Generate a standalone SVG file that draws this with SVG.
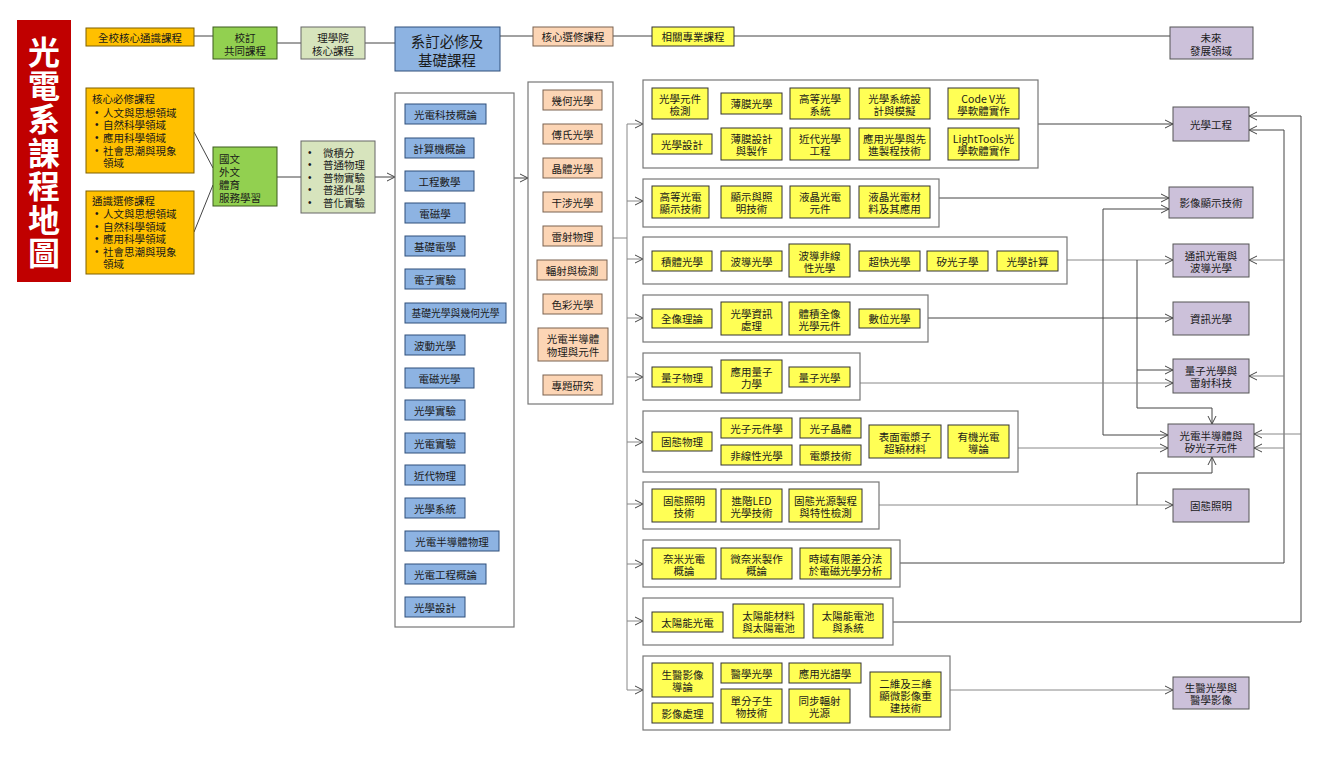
<svg xmlns="http://www.w3.org/2000/svg" width="1331" height="758" viewBox="0 0 1331 758">
<defs>
<style>
.t{font-family:"Noto Sans CJK TC","Noto Sans CJK SC",sans-serif;font-size:10.5px;fill:#1a1a1a;text-anchor:middle;dominant-baseline:central}
.l{font-family:"Noto Sans CJK TC","Noto Sans CJK SC",sans-serif;font-size:10.5px;fill:#1a1a1a;dominant-baseline:central}
.b{font-family:"Liberation Sans",sans-serif;font-size:10px;fill:#1a1a1a;dominant-baseline:central}
.or{fill:#FFC000;stroke:#7F6000;stroke-width:1}
.gr{fill:#92D050;stroke:#3d5a1e;stroke-width:1}
.lg{fill:#D7E4BD;stroke:#666;stroke-width:1}
.bl{fill:#8DB3E2;stroke:#2f4f7a;stroke-width:1}
.pe{fill:#FCD5B5;stroke:#7a6250;stroke-width:1}
.ye{fill:#FFFF55;stroke:#333;stroke-width:1}
.pu{fill:#CCC1DA;stroke:#555;stroke-width:1}
.ct{fill:#fff;stroke:#777;stroke-width:1.2}
.c{fill:none;stroke:#444;stroke-width:1}
.g{fill:none;stroke:#888;stroke-width:1}
</style>
<marker id="a" markerWidth="10" markerHeight="10" refX="9" refY="5" orient="auto" markerUnits="userSpaceOnUse"><path d="M1,1 L9,5 L1,9" fill="none" stroke="#444" stroke-width="1"/></marker>
</defs>
<rect width="1331" height="758" fill="#fff"/>

<g id="title">
<rect x="17" y="20" width="54" height="262" fill="#C00000"/>
<text x="44" font-family="Noto Sans CJK TC,sans-serif" font-size="32" font-weight="bold" fill="#fff" text-anchor="middle" dominant-baseline="central"><tspan x="44" y="50">光</tspan><tspan x="44" y="84">電</tspan><tspan x="44" y="117">系</tspan><tspan x="44" y="151">課</tspan><tspan x="44" y="184">程</tspan><tspan x="44" y="218">地</tspan><tspan x="44" y="251">圖</tspan></text>
</g>

<g id="connectors">
<path class="c" d="M194,36 H213 M277,43 H301 M365,43 H395 M500,36 H533 M613,36 H652 M734,36 H1170"/>
<path class="c" d="M194,132 L213,168 M194,232 L213,185 M277,177 H301"/>
<path class="c" d="M375,177 H395" marker-end="url(#a)"/>
<path class="c" d="M514,178 H528" marker-end="url(#a)"/>
<path class="g" d="M613,238 H627 M627,124 V690"/>
<path class="g" d="M627,124 H643" marker-end="url(#a)"/>
<path class="g" d="M627,201 H643" marker-end="url(#a)"/>
<path class="g" d="M627,259 H643" marker-end="url(#a)"/>
<path class="g" d="M627,318 H643" marker-end="url(#a)"/>
<path class="g" d="M627,377 H643" marker-end="url(#a)"/>
<path class="g" d="M627,442 H643" marker-end="url(#a)"/>
<path class="g" d="M627,504 H643" marker-end="url(#a)"/>
<path class="g" d="M627,564 H643" marker-end="url(#a)"/>
<path class="g" d="M627,621 H643" marker-end="url(#a)"/>
<path class="g" d="M627,690 H643" marker-end="url(#a)"/>
<path class="c" d="M1038,124 H1173" marker-end="url(#a)"/>
<path class="c" d="M939,198 H1169" marker-end="url(#a)"/>
<path class="g" d="M1067,260 H1173" marker-end="url(#a)"/>
<path class="c" d="M928,318 H1173" marker-end="url(#a)"/>
<path class="c" d="M1103,209 H1169" marker-end="url(#a)"/>
<path class="c" d="M1103,209 V435"/>
<path class="c" d="M1103,435 H1168" marker-end="url(#a)"/>
<path class="c" d="M1137,260 V408 H1212 V424" marker-end="url(#a)"/>
<path class="c" d="M1137,370 H1173" marker-end="url(#a)"/>
<path class="g" d="M860,383 H1173" marker-end="url(#a)"/>
<path class="g" d="M1018,448 H1168" marker-end="url(#a)"/>
<path class="g" d="M879,505 H1173" marker-end="url(#a)"/>
<path class="c" d="M1137,505 V473 H1212 V457" marker-end="url(#a)"/>
<path class="c" d="M900,563 H1284 V130 H1249" marker-end="url(#a)"/>
<path class="g" d="M1284,260 H1249" marker-end="url(#a)"/>
<path class="g" d="M1284,376 H1249" marker-end="url(#a)"/>
<path class="g" d="M1284,448 H1254" marker-end="url(#a)"/>
<path class="c" d="M893,622 H1301 V116 H1249" marker-end="url(#a)"/>
<path class="g" d="M1301,434 H1254" marker-end="url(#a)"/>
<path class="g" d="M950,690 H1173" marker-end="url(#a)"/>
</g>

<g id="n-all"><rect class="or" x="86" y="28" width="108" height="18"/><text class="t" x="140" y="37">全校核心通識課程</text></g>
<g id="n-school"><rect class="gr" x="213" y="27" width="64" height="32"/><text class="t"><tspan x="245" y="37">校訂</tspan><tspan x="245" y="50">共同課程</tspan></text></g>
<g id="n-sci"><rect class="lg" x="301" y="27" width="64" height="32"/><text class="t"><tspan x="333" y="37">理學院</tspan><tspan x="333" y="50">核心課程</tspan></text></g>
<g id="n-dept"><rect class="bl" x="395" y="27" width="105" height="44"/><text class="t" style="font-size:14.5px"><tspan x="447" y="40">系訂必修及</tspan><tspan x="447" y="59">基礎課程</tspan></text></g>
<g id="n-coresel"><rect class="pe" x="533" y="27" width="80" height="19"/><text class="t" x="573" y="36.5">核心選修課程</text></g>
<g id="n-prof"><rect class="ye" x="652" y="27" width="82" height="19"/><text class="t" x="693" y="36.5">相關專業課程</text></g>
<g id="n-future"><rect class="pu" x="1170" y="27" width="83" height="32"/><text class="t"><tspan x="1211" y="37">未來</tspan><tspan x="1211" y="50">發展領域</tspan></text></g>

<g id="n-corereq"><rect class="or" x="86" y="88" width="108" height="85"/>
<text class="l" x="92" y="98">核心必修課程</text>
<text class="b"><tspan x="95" y="112">•</tspan><tspan x="95" y="124">•</tspan><tspan x="95" y="137">•</tspan><tspan x="95" y="150">•</tspan></text>
<text class="l"><tspan x="103" y="112">人文與思想領域</tspan><tspan x="103" y="124">自然科學領域</tspan><tspan x="103" y="137">應用科學領域</tspan><tspan x="103" y="150">社會思潮與現象</tspan><tspan x="103" y="162">領域</tspan></text></g>
<g id="n-genel"><rect class="or" x="86" y="191" width="108" height="83"/>
<text class="l" x="92" y="200">通識選修課程</text>
<text class="b"><tspan x="95" y="213">•</tspan><tspan x="95" y="226">•</tspan><tspan x="95" y="238">•</tspan><tspan x="95" y="251">•</tspan></text>
<text class="l"><tspan x="103" y="213">人文與思想領域</tspan><tspan x="103" y="226">自然科學領域</tspan><tspan x="103" y="238">應用科學領域</tspan><tspan x="103" y="251">社會思潮與現象</tspan><tspan x="103" y="263">領域</tspan></text></g>
<g id="n-common"><rect class="gr" x="213" y="147" width="64" height="59"/>
<text class="l"><tspan x="219" y="158">國文</tspan><tspan x="219" y="171">外文</tspan><tspan x="219" y="184">體育</tspan><tspan x="219" y="197">服務學習</tspan></text></g>
<g id="n-basic"><rect class="lg" x="301" y="141" width="74" height="72"/>
<text class="b"><tspan x="308" y="152">•</tspan><tspan x="308" y="164">•</tspan><tspan x="308" y="177">•</tspan><tspan x="308" y="189">•</tspan><tspan x="308" y="202">•</tspan></text>
<text class="l"><tspan x="323" y="152">微積分</tspan><tspan x="323" y="164">普通物理</tspan><tspan x="323" y="177">普物實驗</tspan><tspan x="323" y="189">普通化學</tspan><tspan x="323" y="202">普化實驗</tspan></text></g>

<g id="c-blue"><rect class="ct" x="395" y="93" width="119" height="534"/>
<rect class="bl" x="405" y="104" width="81" height="20"/><text class="t" x="445.5" y="114">光電科技概論</text>
<rect class="bl" x="405" y="138" width="69" height="20"/><text class="t" x="439.5" y="148">計算機概論</text>
<rect class="bl" x="405" y="171" width="69" height="20"/><text class="t" x="439.5" y="181">工程數學</text>
<rect class="bl" x="405" y="203" width="60" height="20"/><text class="t" x="435" y="213">電磁學</text>
<rect class="bl" x="405" y="236" width="60" height="20"/><text class="t" x="435" y="246">基礎電學</text>
<rect class="bl" x="405" y="269" width="60" height="20"/><text class="t" x="435" y="279">電子實驗</text>
<rect class="bl" x="405" y="303" width="101" height="20"/><text class="t" x="455.5" y="313" style="font-size:9.8px">基礎光學與幾何光學</text>
<rect class="bl" x="405" y="335" width="60" height="20"/><text class="t" x="435" y="345">波動光學</text>
<rect class="bl" x="405" y="368" width="69" height="20"/><text class="t" x="439.5" y="378">電磁光學</text>
<rect class="bl" x="405" y="400" width="60" height="20"/><text class="t" x="435" y="410">光學實驗</text>
<rect class="bl" x="405" y="433" width="60" height="20"/><text class="t" x="435" y="443">光電實驗</text>
<rect class="bl" x="405" y="465" width="60" height="20"/><text class="t" x="435" y="475">近代物理</text>
<rect class="bl" x="405" y="498" width="60" height="20"/><text class="t" x="435" y="508">光學系統</text>
<rect class="bl" x="405" y="531" width="94" height="20"/><text class="t" x="452" y="541">光電半導體物理</text>
<rect class="bl" x="405" y="564" width="81" height="20"/><text class="t" x="445.5" y="574">光電工程概論</text>
<rect class="bl" x="405" y="597" width="60" height="20"/><text class="t" x="435" y="607">光學設計</text>
</g>

<g id="c-peach"><rect class="ct" x="528" y="82" width="85" height="322"/>
<rect class="pe" x="543" y="90" width="59" height="20"/><text class="t" x="572.5" y="100">幾何光學</text>
<rect class="pe" x="543" y="124" width="59" height="20"/><text class="t" x="572.5" y="134">傅氏光學</text>
<rect class="pe" x="543" y="158" width="59" height="20"/><text class="t" x="572.5" y="168">晶體光學</text>
<rect class="pe" x="543" y="192" width="59" height="20"/><text class="t" x="572.5" y="202">干涉光學</text>
<rect class="pe" x="543" y="226" width="59" height="20"/><text class="t" x="572.5" y="236">雷射物理</text>
<rect class="pe" x="537" y="260" width="70" height="20"/><text class="t" x="572" y="270">輻射與檢測</text>
<rect class="pe" x="543" y="294" width="59" height="20"/><text class="t" x="572.5" y="304">色彩光學</text>
<rect class="pe" x="538" y="328" width="70" height="33"/><text class="t"><tspan x="573" y="338">光電半導體</tspan><tspan x="573" y="351">物理與元件</tspan></text>
<rect class="pe" x="543" y="375" width="59" height="20"/><text class="t" x="572.5" y="385">專題研究</text>
</g>

<g id="g1"><rect class="ct" x="643" y="80" width="395" height="88"/>
<rect class="ye" x="652" y="88" width="56" height="31"/><text class="t"><tspan x="680" y="97.5">光學元件</tspan><tspan x="680" y="109.5">檢測</tspan></text>
<rect class="ye" x="721" y="93" width="61" height="21"/><text class="t" x="751.5" y="103.5">薄膜光學</text>
<rect class="ye" x="790" y="88" width="60" height="31"/><text class="t"><tspan x="820" y="97.5">高等光學</tspan><tspan x="820" y="109.5">系統</tspan></text>
<rect class="ye" x="859" y="88" width="71" height="31"/><text class="t"><tspan x="894.5" y="97.5">光學系統設</tspan><tspan x="894.5" y="109.5">計與模擬</tspan></text>
<rect class="ye" x="948" y="88" width="71" height="31"/><text class="t"><tspan x="983.5" y="97.5">Code V光</tspan><tspan x="983.5" y="109.5">學軟體實作</tspan></text>
<rect class="ye" x="652" y="134" width="60" height="20"/><text class="t" x="682" y="144">光學設計</text>
<rect class="ye" x="721" y="128" width="61" height="32"/><text class="t"><tspan x="751.5" y="138">薄膜設計</tspan><tspan x="751.5" y="150">與製作</tspan></text>
<rect class="ye" x="790" y="128" width="60" height="32"/><text class="t"><tspan x="820" y="138">近代光學</tspan><tspan x="820" y="150">工程</tspan></text>
<rect class="ye" x="859" y="128" width="71" height="32"/><text class="t"><tspan x="894.5" y="138">應用光學與先</tspan><tspan x="894.5" y="150">進製程技術</tspan></text>
<rect class="ye" x="948" y="128" width="71" height="32"/><text class="t"><tspan x="983.5" y="138">LightTools光</tspan><tspan x="983.5" y="150">學軟體實作</tspan></text>
</g>

<g id="g2"><rect class="ct" x="643" y="179" width="296" height="48"/>
<rect class="ye" x="652" y="186" width="57" height="32"/><text class="t"><tspan x="680.5" y="196">高等光電</tspan><tspan x="680.5" y="208">顯示技術</tspan></text>
<rect class="ye" x="721" y="186" width="61" height="32"/><text class="t"><tspan x="751.5" y="196">顯示與照</tspan><tspan x="751.5" y="208">明技術</tspan></text>
<rect class="ye" x="790" y="186" width="60" height="32"/><text class="t"><tspan x="820" y="196">液晶光電</tspan><tspan x="820" y="208">元件</tspan></text>
<rect class="ye" x="859" y="186" width="71" height="32"/><text class="t"><tspan x="894.5" y="196">液晶光電材</tspan><tspan x="894.5" y="208">料及其應用</tspan></text>
</g>

<g id="g3"><rect class="ct" x="643" y="237" width="424" height="47"/>
<rect class="ye" x="652" y="251" width="60" height="20"/><text class="t" x="682" y="261">積體光學</text>
<rect class="ye" x="721" y="251" width="61" height="20"/><text class="t" x="751.5" y="261">波導光學</text>
<rect class="ye" x="789" y="244" width="61" height="33"/><text class="t"><tspan x="819.5" y="254.5">波導非線</tspan><tspan x="819.5" y="266.5">性光學</tspan></text>
<rect class="ye" x="859" y="251" width="61" height="20"/><text class="t" x="889.5" y="261">超快光學</text>
<rect class="ye" x="927" y="251" width="61" height="20"/><text class="t" x="957.5" y="261">矽光子學</text>
<rect class="ye" x="997" y="251" width="61" height="20"/><text class="t" x="1027.5" y="261">光學計算</text>
</g>

<g id="g4"><rect class="ct" x="643" y="295" width="285" height="47"/>
<rect class="ye" x="652" y="309" width="60" height="19"/><text class="t" x="682" y="318.5">全像理論</text>
<rect class="ye" x="721" y="302" width="61" height="33"/><text class="t"><tspan x="751.5" y="312.5">光學資訊</tspan><tspan x="751.5" y="324.5">處理</tspan></text>
<rect class="ye" x="789" y="302" width="61" height="33"/><text class="t"><tspan x="819.5" y="312.5">體積全像</tspan><tspan x="819.5" y="324.5">光學元件</tspan></text>
<rect class="ye" x="859" y="309" width="61" height="19"/><text class="t" x="889.5" y="318.5">數位光學</text>
</g>

<g id="g5"><rect class="ct" x="643" y="353" width="217" height="47"/>
<rect class="ye" x="652" y="367" width="60" height="20"/><text class="t" x="682" y="377">量子物理</text>
<rect class="ye" x="721" y="360" width="61" height="33"/><text class="t"><tspan x="751.5" y="370.5">應用量子</tspan><tspan x="751.5" y="382.5">力學</tspan></text>
<rect class="ye" x="789" y="367" width="61" height="20"/><text class="t" x="819.5" y="377">量子光學</text>
</g>

<g id="g6"><rect class="ct" x="643" y="411" width="375" height="61"/>
<rect class="ye" x="652" y="432" width="60" height="19"/><text class="t" x="682" y="441.5">固態物理</text>
<rect class="ye" x="721" y="418" width="71" height="20"/><text class="t" x="756.5" y="428">光子元件學</text>
<rect class="ye" x="721" y="445" width="71" height="20"/><text class="t" x="756.5" y="455">非線性光學</text>
<rect class="ye" x="800" y="418" width="61" height="20"/><text class="t" x="830.5" y="428">光子晶體</text>
<rect class="ye" x="800" y="445" width="61" height="20"/><text class="t" x="830.5" y="455">電漿技術</text>
<rect class="ye" x="869" y="425" width="72" height="33"/><text class="t"><tspan x="905" y="435.5">表面電漿子</tspan><tspan x="905" y="447.5">超穎材料</tspan></text>
<rect class="ye" x="948" y="425" width="61" height="33"/><text class="t"><tspan x="978.5" y="435.5">有機光電</tspan><tspan x="978.5" y="447.5">導論</tspan></text>
</g>

<g id="g7"><rect class="ct" x="643" y="482" width="236" height="47"/>
<rect class="ye" x="652" y="489" width="64" height="33"/><text class="t"><tspan x="684" y="499.5">固態照明</tspan><tspan x="684" y="511.5">技術</tspan></text>
<rect class="ye" x="721" y="489" width="61" height="33"/><text class="t"><tspan x="751.5" y="499.5">進階LED</tspan><tspan x="751.5" y="511.5">光學技術</tspan></text>
<rect class="ye" x="789" y="489" width="73" height="33"/><text class="t"><tspan x="825.5" y="499.5">固態光源製程</tspan><tspan x="825.5" y="511.5">與特性檢測</tspan></text>
</g>

<g id="g8"><rect class="ct" x="643" y="540" width="257" height="47"/>
<rect class="ye" x="652" y="548" width="64" height="31"/><text class="t"><tspan x="684" y="557.5">奈米光電</tspan><tspan x="684" y="569.5">概論</tspan></text>
<rect class="ye" x="721" y="548" width="71" height="31"/><text class="t"><tspan x="756.5" y="557.5">微奈米製作</tspan><tspan x="756.5" y="569.5">概論</tspan></text>
<rect class="ye" x="800" y="548" width="91" height="31"/><text class="t"><tspan x="845.5" y="557.5">時域有限差分法</tspan><tspan x="845.5" y="569.5">於電磁光學分析</tspan></text>
</g>

<g id="g9"><rect class="ct" x="643" y="598" width="250" height="47"/>
<rect class="ye" x="652" y="612" width="71" height="20"/><text class="t" x="687.5" y="622">太陽能光電</text>
<rect class="ye" x="733" y="604" width="71" height="34"/><text class="t"><tspan x="768.5" y="615">太陽能材料</tspan><tspan x="768.5" y="627">與太陽電池</tspan></text>
<rect class="ye" x="813" y="604" width="70" height="34"/><text class="t"><tspan x="848" y="615">太陽能電池</tspan><tspan x="848" y="627">與系統</tspan></text>
</g>

<g id="g10"><rect class="ct" x="643" y="656" width="307" height="74"/>
<rect class="ye" x="652" y="663" width="61" height="34"/><text class="t"><tspan x="682.5" y="674">生醫影像</tspan><tspan x="682.5" y="686">導論</tspan></text>
<rect class="ye" x="652" y="703" width="61" height="20"/><text class="t" x="682.5" y="713">影像處理</text>
<rect class="ye" x="721" y="663" width="61" height="20"/><text class="t" x="751.5" y="673">醫學光學</text>
<rect class="ye" x="721" y="689" width="61" height="34"/><text class="t"><tspan x="751.5" y="700">單分子生</tspan><tspan x="751.5" y="712">物技術</tspan></text>
<rect class="ye" x="789" y="663" width="72" height="20"/><text class="t" x="825" y="673">應用光譜學</text>
<rect class="ye" x="789" y="689" width="61" height="34"/><text class="t"><tspan x="819.5" y="700">同步輻射</tspan><tspan x="819.5" y="712">光源</tspan></text>
<rect class="ye" x="870" y="672" width="71" height="45"/><text class="t"><tspan x="905.5" y="682.5">二維及三維</tspan><tspan x="905.5" y="694.5">顯微影像重</tspan><tspan x="905.5" y="706.5">建技術</tspan></text>
</g>

<g id="f1"><rect class="pu" x="1173" y="107" width="76" height="34"/><text class="t" x="1211" y="124">光學工程</text></g>
<g id="f2"><rect class="pu" x="1169" y="187" width="84" height="31"/><text class="t" x="1211" y="202.5">影像顯示技術</text></g>
<g id="f3"><rect class="pu" x="1173" y="244" width="76" height="33"/><text class="t"><tspan x="1211" y="254.5">通訊光電與</tspan><tspan x="1211" y="266.5">波導光學</tspan></text></g>
<g id="f4"><rect class="pu" x="1173" y="302" width="76" height="33"/><text class="t" x="1211" y="318.5">資訊光學</text></g>
<g id="f5"><rect class="pu" x="1173" y="359" width="76" height="34"/><text class="t"><tspan x="1211" y="370">量子光學與</tspan><tspan x="1211" y="382">雷射科技</tspan></text></g>
<g id="f6"><rect class="pu" x="1168" y="424" width="86" height="33"/><text class="t"><tspan x="1211" y="434.5">光電半導體與</tspan><tspan x="1211" y="446.5">矽光子元件</tspan></text></g>
<g id="f7"><rect class="pu" x="1173" y="489" width="76" height="33"/><text class="t" x="1211" y="505.5">固態照明</text></g>
<g id="f8"><rect class="pu" x="1173" y="677" width="76" height="32"/><text class="t"><tspan x="1211" y="687">生醫光學與</tspan><tspan x="1211" y="699">醫學影像</tspan></text></g>
</svg>
